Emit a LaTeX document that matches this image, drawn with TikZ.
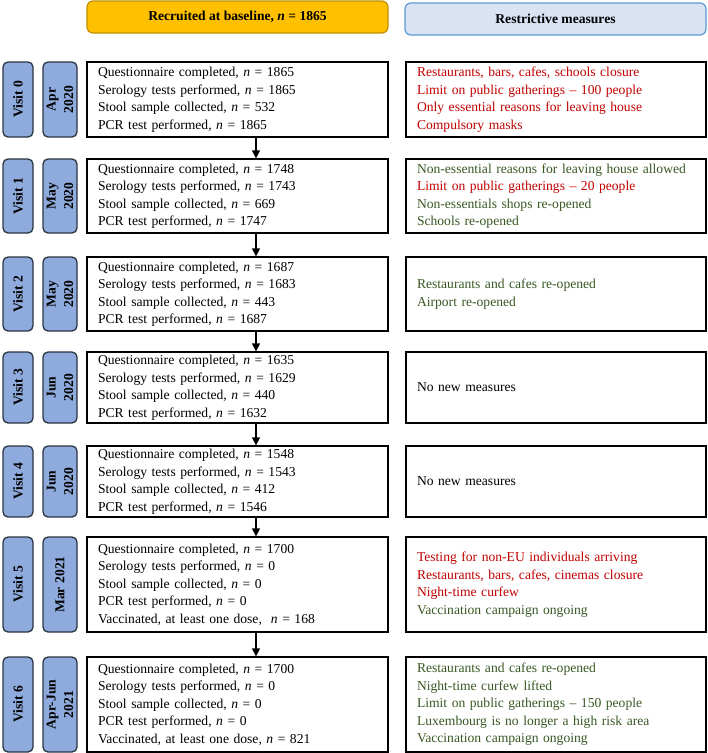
\documentclass[tikz,border=0pt]{standalone}
\usepackage{fontspec}
\setmainfont{Liberation Serif}
\usetikzlibrary{arrows.meta}
\definecolor{tabblue}{HTML}{8FAADC}
\definecolor{tabborder}{HTML}{2B3442}
\definecolor{orangefill}{HTML}{FFC000}
\definecolor{orangeborder}{HTML}{BF9000}
\definecolor{hdrblue}{HTML}{DAE3F3}
\definecolor{hdrborder}{HTML}{5B9BD5}
\definecolor{redtxt}{HTML}{C00000}
\definecolor{greentxt}{HTML}{385723}
\newcommand{\nn}{\textit{n}}
\begin{document}
\begin{tikzpicture}[x=1pt,y=-1pt,
  txt/.style={font=\fontsize{13.6pt}{17.5pt}\selectfont},
  mainbox/.style={txt, draw=black, line width=1.3pt, rectangle, minimum width=301pt,
    text width=279pt, inner xsep=11pt, inner ysep=0pt, align=left},
  rightbox/.style={txt, draw=black, line width=1.3pt, rectangle, minimum width=300pt,
    text width=278pt, inner xsep=11pt, inner ysep=0pt, align=left},
  tabbox/.style={font=\fontsize{13.6pt}{17.5pt}\selectfont\bfseries, draw=tabborder, fill=tabblue,
    rounded corners=5pt, line width=1.3pt, rotate=90, align=center, inner sep=0pt},
  visittab/.style={tabbox, minimum height=30pt},
  monthtab/.style={tabbox, minimum height=34pt},
  hdr/.style={font=\fontsize{13.6pt}{17.5pt}\selectfont\bfseries, rounded corners=6pt,
    line width=1.2pt, minimum width=301pt, minimum height=32pt, inner sep=0pt},
  arr/.style={line width=1.3pt, -{Triangle[length=8pt,width=8pt]}}
]
\useasboundingbox (0,0) rectangle (708,753);

% headers
\node[hdr, draw=orangeborder, fill=orangefill] (h1) at (237.5,17) {Recruited at baseline, \textit{n} = 1865};
\node[hdr, draw=hdrborder, fill=hdrblue] (h2) at (555.5,19) {Restrictive measures};

% row 0
\node[visittab, minimum width=75pt] (v0) at (18,99.5) {Visit 0};
\node[monthtab, minimum width=75pt] (d0) at (60,99.5) {Apr\\2020};
\node[mainbox, minimum height=75pt] (m0) at (237.5,99.5) {Questionnaire completed, \nn{} = 1865\\Serology tests performed, \nn{} = 1865\\Stool sample collected, \nn{} = 532\\PCR test performed, \nn{} = 1865};
\node[rightbox, minimum height=75pt] (r0) at (556,99.5) {\textcolor{redtxt}{Restaurants, bars, cafes, schools closure}\\\textcolor{redtxt}{Limit on public gatherings – 100 people}\\\textcolor{redtxt}{Only essential reasons for leaving house}\\\textcolor{redtxt}{Compulsory masks}};

% row 1
\node[visittab, minimum width=74pt] (v1) at (18,196) {Visit 1};
\node[monthtab, minimum width=74pt] (d1) at (60,196) {May\\2020};
\node[mainbox, minimum height=74pt] (m1) at (237.5,196) {Questionnaire completed, \nn{} = 1748\\Serology tests performed, \nn{} = 1743\\Stool sample collected, \nn{} = 669\\PCR test performed, \nn{} = 1747};
\node[rightbox, minimum height=74pt] (r1) at (556,196) {\textcolor{greentxt}{Non-essential reasons for leaving house allowed}\\\textcolor{redtxt}{Limit on public gatherings – 20 people}\\\textcolor{greentxt}{Non-essentials shops re-opened}\\\textcolor{greentxt}{Schools re-opened}};

% row 2
\node[visittab, minimum width=74pt] (v2) at (18,294) {Visit 2};
\node[monthtab, minimum width=74pt] (d2) at (60,294) {May\\2020};
\node[mainbox, minimum height=74pt] (m2) at (237.5,294) {Questionnaire completed, \nn{} = 1687\\Serology tests performed, \nn{} = 1683\\Stool sample collected, \nn{} = 443\\PCR test performed, \nn{} = 1687};
\node[rightbox, minimum height=74pt] (r2) at (556,294) {\textcolor{greentxt}{Restaurants and cafes re-opened}\\\textcolor{greentxt}{Airport re-opened}};

% row 3
\node[visittab, minimum width=71pt] (v3) at (18,387.5) {Visit 3};
\node[monthtab, minimum width=71pt] (d3) at (60,387.5) {Jun\\2020};
\node[mainbox, minimum height=71pt] (m3) at (237.5,387.5) {Questionnaire completed, \nn{} = 1635\\Serology tests performed, \nn{} = 1629\\Stool sample collected, \nn{} = 440\\PCR test performed, \nn{} = 1632};
\node[rightbox, minimum height=71pt] (r3) at (556,387.5) {No new measures};

% row 4
\node[visittab, minimum width=71pt] (v4) at (18,481.5) {Visit 4};
\node[monthtab, minimum width=71pt] (d4) at (60,481.5) {Jun\\2020};
\node[mainbox, minimum height=71pt] (m4) at (237.5,481.5) {Questionnaire completed, \nn{} = 1548\\Serology tests performed, \nn{} = 1543\\Stool sample collected, \nn{} = 412\\PCR test performed, \nn{} = 1546};
\node[rightbox, minimum height=71pt] (r4) at (556,481.5) {No new measures};

% row 5
\node[visittab, minimum width=95pt] (v5) at (18,584.5) {Visit 5};
\node[monthtab, minimum width=95pt] (d5) at (60,584.5) {Mar 2021};
\node[mainbox, minimum height=95pt] (m5) at (237.5,584.5) {Questionnaire completed, \nn{} = 1700\\Serology tests performed, \nn{} = 0\\Stool sample collected, \nn{} = 0\\PCR test performed, \nn{} = 0\\Vaccinated, at least one dose,~ \nn{} = 168};
\node[rightbox, minimum height=95pt] (r5) at (556,584.5) {\textcolor{redtxt}{Testing for non-EU individuals arriving}\\\textcolor{redtxt}{Restaurants, bars, cafes, cinemas closure}\\\textcolor{redtxt}{Night-time curfew}\\\textcolor{greentxt}{Vaccination campaign ongoing}};

% row 6
\node[visittab, minimum width=95pt] (v6) at (18,704.5) {Visit 6};
\node[monthtab, minimum width=95pt] (d6) at (60,704.5) {Apr-Jun\\2021};
\node[mainbox, minimum height=95pt] (m6) at (237.5,704.5) {Questionnaire completed, \nn{} = 1700\\Serology tests performed, \nn{} = 0\\Stool sample collected, \nn{} = 0\\PCR test performed, \nn{} = 0\\Vaccinated, at least one dose, \nn{} = 821};
\node[rightbox, minimum height=95pt] (r6) at (556,704.5) {\textcolor{greentxt}{Restaurants and cafes re-opened}\\\textcolor{greentxt}{Night-time curfew lifted}\\\textcolor{greentxt}{Limit on public gatherings – 150 people}\\\textcolor{greentxt}{Luxembourg is no longer a high risk area}\\\textcolor{greentxt}{Vaccination campaign ongoing}};

% arrows
\coordinate (ax) at (256,0);
\draw[arr] (m0.south -| ax) -- (m1.north -| ax);
\draw[arr] (m1.south -| ax) -- (m2.north -| ax);
\draw[arr] (m2.south -| ax) -- (m3.north -| ax);
\draw[arr] (m3.south -| ax) -- (m4.north -| ax);
\draw[arr] (m4.south -| ax) -- (m5.north -| ax);
\draw[arr] (m5.south -| ax) -- (m6.north -| ax);
\end{tikzpicture}
\end{document}
